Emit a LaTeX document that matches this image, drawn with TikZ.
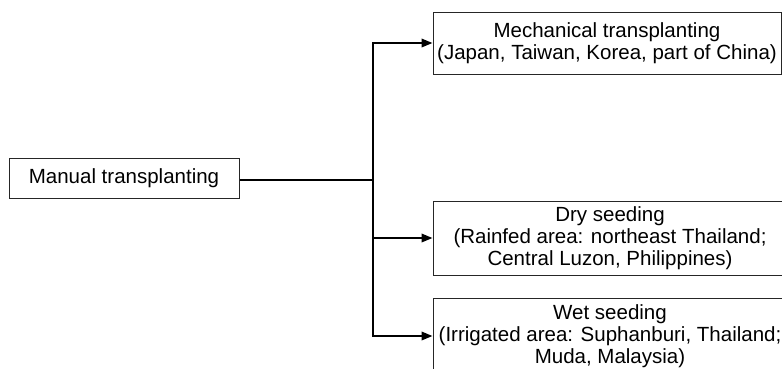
\documentclass[tikz,border=0pt]{standalone}
\usepackage{fontspec}
\setmainfont{Liberation Sans}
\usetikzlibrary{arrows.meta}
\begin{document}
\begin{tikzpicture}[x=1pt,y=-1pt,
  box/.style={draw=black!85,line width=1pt,inner sep=0pt,align=center,
    font=\fontsize{20.5}{22}\selectfont},
  conn/.style={line width=2pt},
  arr/.style={conn,-{Triangle[length=11pt,width=8.5pt]}}]
\useasboundingbox (0,0) rectangle (782,368);
\begin{scope}
\clip (0,0) rectangle (782,368);
\node[box,minimum width=230pt,minimum height=40pt] (manual) at (124,178) {Manual transplanting};
\node[box,minimum width=348pt,minimum height=62pt] (mech) at (607,43) {Mechanical transplanting\\(Japan, Taiwan, Korea, part of China)};
\node[box,minimum width=354pt,minimum height=74pt] (dry) at (610,238) {Dry seeding\\(Rainfed area: northeast Thailand;\\Central Luzon, Philippines)};
\node[box,minimum width=354pt,minimum height=76pt] (wet) at (610,336) {Wet seeding\\(Irrigated area: Suphanburi, Thailand;\\Muda, Malaysia)};
\end{scope}
\coordinate (j) at (373,180);
\draw[conn] (manual.east |- j) -- (j);
\draw[arr] (j) |- (mech.west);
\draw[arr] (j) |- (dry.west);
\draw[arr] (j) |- (wet.west);
\end{tikzpicture}
\end{document}
